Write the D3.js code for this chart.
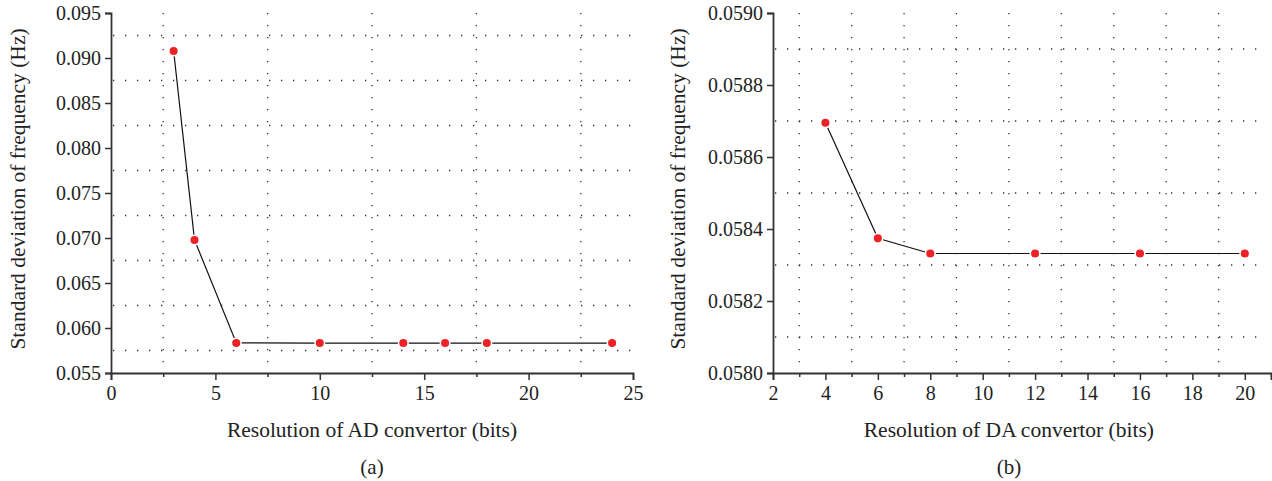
<!DOCTYPE html>
<html>
<head>
<meta charset="utf-8">
<script src="https://cdn.jsdelivr.net/npm/d3@7"></script>
<style>
  body { margin: 0; background: #fff; }
  text { font-family: "Liberation Serif", "DejaVu Serif", serif; fill: #222; }
</style>
</head>
<body>
<div id="viz"></div>
<script>
// panel (a): AD convertor
const adBits = [3, 4, 6, 10, 14, 16, 18, 24];
const adStd = [0.09078, 0.06978, 0.05834, 0.05833, 0.05833, 0.05833, 0.05833, 0.05833];
const adXTicks = [0, 5, 10, 15, 20, 25];
const adXMinor = [2.5, 7.5, 12.5, 17.5, 22.5];
const adYTicks = [0.055, 0.060, 0.065, 0.070, 0.075, 0.080, 0.085, 0.090, 0.095];
const adYGrid = [0.0575, 0.0625, 0.0675, 0.0725, 0.0775, 0.0825, 0.0875, 0.0925];

// panel (b): DA convertor
const daBits = [4, 6, 8, 12, 16, 20];
const daStd = [0.058695, 0.058374, 0.058332, 0.058332, 0.058332, 0.058332];
const daXTicks = [2, 4, 6, 8, 10, 12, 14, 16, 18, 20];
const daXMinor = [3, 5, 7, 9, 11, 13, 15, 17, 19, 21];
const daYTicks = [0.0580, 0.0582, 0.0584, 0.0586, 0.0588, 0.0590];
const daYGrid = [0.0581, 0.0583, 0.0585, 0.0587, 0.0589];

const svg = d3.select("#viz")
    .append("svg")
    .attr("width", 1272)
    .attr("height", 481);

function panel(p) {
    let x = d3.scaleLinear().domain(p.xDomain).range([p.left, p.right]);
    let y = d3.scaleLinear().domain(p.yDomain).range([373, 13]);
    let g = svg.append("g");

    // dotted grid
    g.selectAll(".vg").data(p.xGrid).join("line")
        .attr("x1", d => x(d)).attr("x2", d => x(d))
        .attr("y1", 13).attr("y2", 373)
        .attr("stroke", "#333").attr("stroke-width", 1.3)
        .attr("stroke-dasharray", "1.3,10.7");
    g.selectAll(".hg").data(p.yGrid).join("line")
        .attr("x1", p.left + 2).attr("x2", p.gridEnd)
        .attr("y1", d => y(d)).attr("y2", d => y(d))
        .attr("stroke", "#333").attr("stroke-width", 1.3)
        .attr("stroke-dasharray", "1.3,10.7");

    // axes
    g.append("g").attr("transform", "translate(0,373)")
        .call(d3.axisBottom(x).tickValues(p.xTicks).tickSize(7).tickPadding(6).tickFormat(d3.format("d")));
    g.append("g").attr("transform", "translate(0,373)")
        .call(d3.axisBottom(x).tickValues(p.xMinor).tickSize(4).tickFormat(""))
        .call(a => a.select(".domain").remove());
    g.append("g").attr("transform", `translate(${p.left},0)`)
        .call(d3.axisLeft(y).tickValues(p.yTicks).tickSize(6).tickPadding(4).tickFormat(d3.format(p.yFmt)));
    g.selectAll(".domain").attr("stroke", "#333").attr("stroke-width", 1.8);
    g.selectAll(".tick line").attr("stroke", "#333").attr("stroke-width", 1.5);
    g.selectAll(".tick text").style("font-size", "20px").style("font-family", "Liberation Serif").attr("fill", "#222");

    // line + markers
    let pts = p.xs.map((d, i) => [d, p.ys[i]]);
    g.append("path")
        .datum(pts)
        .attr("fill", "none")
        .attr("stroke", "#111")
        .attr("stroke-width", 1.2)
        .attr("d", d3.line().x(d => x(d[0])).y(d => y(d[1])));
    g.selectAll("circle").data(pts).join("circle")
        .attr("cx", d => x(d[0])).attr("cy", d => y(d[1]))
        .attr("r", 4.8)
        .style("fill", "#ec2227")
        .style("stroke", "white")
        .attr("stroke-width", 1.5);

    // labels
    let cx = (x(p.xTicks[0]) + x(p.xTicks[p.xTicks.length - 1])) / 2;
    g.append("text").attr("x", cx).attr("y", 437)
        .attr("text-anchor", "middle").style("font-size", "21.5px")
        .text(p.xLabel);
    g.append("text").attr("x", cx).attr("y", 474)
        .attr("text-anchor", "middle").style("font-size", "21px")
        .text(p.tag);
    g.append("text")
        .attr("transform", `translate(${p.yLabelX},189) rotate(-90)`)
        .attr("text-anchor", "middle").style("font-size", "21.5px")
        .text("Standard deviation of frequency (Hz)");
}

panel({
    xs: adBits, ys: adStd,
    xDomain: [0, 25], yDomain: [0.055, 0.095],
    left: 111, right: 633, gridEnd: 634,
    xTicks: adXTicks, xMinor: adXMinor, xGrid: adXMinor,
    yTicks: adYTicks, yGrid: adYGrid, yFmt: ".3f",
    xLabel: "Resolution of AD convertor (bits)", tag: "(a)", yLabelX: 25
});

panel({
    xs: daBits, ys: daStd,
    xDomain: [2, 21], yDomain: [0.0580, 0.0590],
    left: 773, right: 1271, gridEnd: 1258,
    xTicks: daXTicks, xMinor: daXMinor, xGrid: daXMinor.slice(0, 9),
    yTicks: daYTicks, yGrid: daYGrid, yFmt: ".4f",
    xLabel: "Resolution of DA convertor (bits)", tag: "(b)", yLabelX: 685
});
</script>
</body>
</html>
